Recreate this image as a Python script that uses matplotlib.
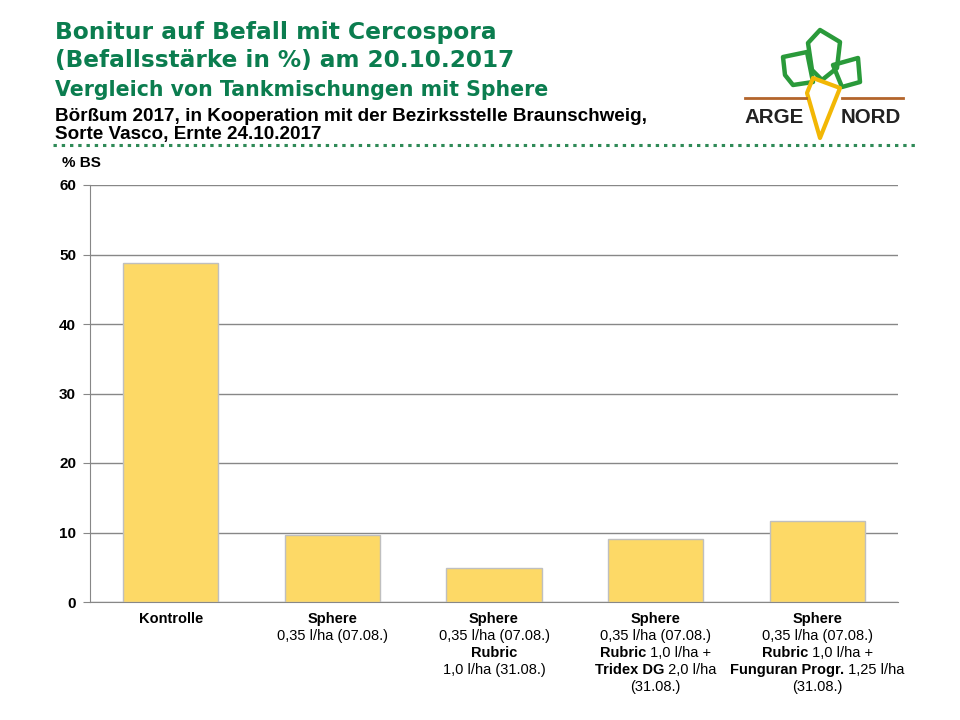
import matplotlib
matplotlib.use('Agg')
from matplotlib import pyplot as plt
from matplotlib import font_manager, transforms
from matplotlib.patches import Polygon

# Data
categories = ['Kontrolle', 'Sphere', 'Sphere + Rubric', 'Sphere + Rubric + Tridex DG',
              'Sphere + Rubric + Funguran Progr.']
befall = [48.8, 9.7, 4.9, 9.0, 11.7]
y_ticks = [0, 10, 20, 30, 40, 50, 60]

# tick label lines, each line a list of (text, bold)
tick_lines = [
    [[('Kontrolle', True)]],
    [[('Sphere', True)], [('0,35 l/ha (07.08.)', False)]],
    [[('Sphere', True)], [('0,35 l/ha (07.08.)', False)], [('Rubric', True)],
     [('1,0 l/ha (31.08.)', False)]],
    [[('Sphere', True)], [('0,35 l/ha (07.08.)', False)], [('Rubric', True), (' 1,0 l/ha +', False)],
     [('Tridex DG', True), (' 2,0 l/ha', False)], [('(31.08.)', False)]],
    [[('Sphere', True)], [('0,35 l/ha (07.08.)', False)], [('Rubric', True), (' 1,0 l/ha +', False)],
     [('Funguran Progr.', True), (' 1,25 l/ha', False)], [('(31.08.)', False)]],
]

names = {f.name for f in font_manager.fontManager.ttflist}
narrow = 'Liberation Sans Narrow' if 'Liberation Sans Narrow' in names else 'Liberation Sans'
plt.rcParams['font.family'] = ['Liberation Sans', 'DejaVu Sans']

green = '#0b7d4f'

fig = plt.figure(figsize=(9.6, 7.2), dpi=100)

# overlay in pixel coords for header and logo
bg = fig.add_axes([0, 0, 1, 1], zorder=0)
bg.set_xlim(0, 960)
bg.set_ylim(720, 0)
bg.axis('off')

# header (wide green title font)
bg.text(55, 39.5, 'Bonitur auf Befall mit Cercospora', color=green, family='DejaVu Sans',
        fontsize=16.8, fontweight='bold', va='baseline')
bg.text(55, 67.5, '(Befallsstärke in %) am 20.10.2017', color=green, family='DejaVu Sans',
        fontsize=16.7, fontweight='bold', va='baseline')
bg.text(55, 95.7, 'Vergleich von Tankmischungen mit Sphere', color=green, family='DejaVu Sans',
        fontsize=14.8, fontweight='bold', va='baseline')
bg.text(55, 121, 'Börßum 2017, in Kooperation mit der Bezirksstelle Braunschweig,',
        family=narrow, fontsize=13.6, fontweight='bold', va='baseline')
bg.text(55, 139.5, 'Sorte Vasco, Ernte 24.10.2017',
        family=narrow, fontsize=13.6, fontweight='bold', va='baseline')

bg.plot([53, 915], [144.5, 144.5], color='#2f8a57', lw=2.2, linestyle=(0, (1.1, 1.6)))

# logo
leaf = dict(closed=True, fill=False, edgecolor='#2a9a3a', lw=3.2, joinstyle='round')
bg.add_patch(Polygon([(783, 57), (807, 52), (813, 82), (793, 85), (785, 75)], **leaf))
bg.add_patch(Polygon([(808, 43), (820, 30), (840, 42), (837, 68), (822, 80), (812, 70)], **leaf))
bg.add_patch(Polygon([(833, 65), (858, 58), (860, 82), (842, 87)], **leaf))
bg.plot([745, 806], [98, 98], color='#b3652b', lw=2)
bg.plot([842, 903], [98, 98], color='#b3652b', lw=2)
bg.add_patch(Polygon([(813, 78), (840, 88), (820, 138), (807, 93)], closed=True, fill=False,
                     edgecolor='#f2b705', lw=3, joinstyle='round'))
bg.text(774, 123, 'ARGE', ha='center', va='baseline', fontsize=14.8, fontweight='bold',
        color='#222222')
bg.text(871, 123, 'NORD', ha='center', va='baseline', fontsize=14.8, fontweight='bold',
        color='#222222')

# chart
ax = fig.add_axes([90 / 960, 1 - 602 / 720, 808 / 960, 417 / 720], zorder=1)
ax.patch.set_alpha(0)
x = list(range(len(befall)))
ax.bar(x, befall, width=0.59, color='#fdd966', edgecolor='#bfbfbf', linewidth=1, zorder=3)
ax.set_xlim(-0.5, len(befall) - 0.5)
ax.set_ylim(0, 60)
ax.set_yticks(y_ticks)
ax.set_yticklabels([str(v) for v in y_ticks], fontsize=11, fontweight='bold', family=narrow)
ax.yaxis.grid(True, color='#878787', lw=1, zorder=0)
ax.set_xticks([])
for s in ['top', 'right']:
    ax.spines[s].set_visible(False)
ax.spines['left'].set_color('#878787')
ax.spines['bottom'].set_color('#878787')
ax.tick_params(axis='y', length=5, color='#878787', pad=5)
bg.text(62, 163, '% BS', fontsize=11, fontweight='bold', family=narrow, va='center')

# x tick labels with mixed bold / normal segments
base = transforms.blended_transform_factory(ax.transData, ax.transAxes)
fig.canvas.draw()
renderer = fig.canvas.get_renderer()
for i, lines in enumerate(tick_lines):
    for j, segs in enumerate(lines):
        texts = []
        for txt, bold in segs:
            t = ax.text(i, 0, txt, fontsize=10.5, family=narrow,
                        fontweight='bold' if bold else 'normal', ha='left', va='center',
                        transform=base, clip_on=False)
            texts.append(t)
        widths = [t.get_window_extent(renderer).width for t in texts]
        off = -sum(widths) / 2
        for t, w in zip(texts, widths):
            t.set_transform(transforms.offset_copy(base, fig=fig, x=off, y=-17 - 17 * j, units='dots'))
            off += w

fig.savefig('out.png', dpi=100)
